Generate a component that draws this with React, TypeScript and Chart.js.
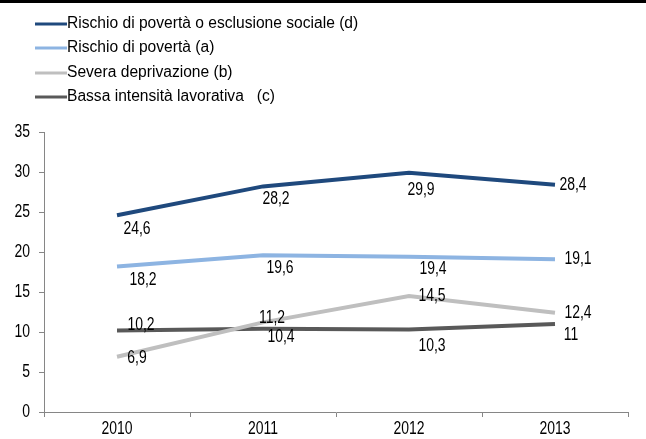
import React, { useEffect, useRef } from "react";
import { Chart, registerables } from "chart.js";

Chart.register(...registerables);

const categories = ["2010", "2011", "2012", "2013"];
const seriesNames = [
  "Rischio di povertà o esclusione sociale (d)",
  "Rischio di povertà (a)",
  "Severa deprivazione (b)",
  "Bassa intensità lavorativa   (c)",
];
const povertyOrExclusion = [24.6, 28.2, 29.9, 28.4];
const povertyRisk = [18.2, 19.6, 19.4, 19.1];
const severeDeprivation = [6.9, 11.2, 14.5, 12.4];
const lowWorkIntensity = [10.2, 10.4, 10.3, 11];
const yTicks = [0, 5, 10, 15, 20, 25, 30, 35];

const colors = ["#1F497D", "#8DB4E2", "#BFBFBF", "#595959"];

// label offsets (dx, dy) relative to each point
const labelOffsets = [
  [[20, 14], [13, 13], [12, 17], [18, 0]],
  [[26, 14], [17, 13], [24, 12], [23, 0]],
  [[20, 1], [9, -4], [23, 0], [23, 0]],
  [[24, -5], [18, 8], [23, 16], [16, 11]],
];

const FONT = "'Liberation Sans', Arial, sans-serif";
const NUM_SIZE = 18;
const NUM_SCALE = 0.775;
const LEGEND_SIZE = 15.6;

const fmt = (v: number) => String(v).replace(".", ",");

function narrowText(ctx: CanvasRenderingContext2D, text: string, x: number, y: number, align: CanvasTextAlign) {
  ctx.save();
  ctx.translate(x, y);
  ctx.scale(NUM_SCALE, 1);
  ctx.textAlign = align;
  ctx.textBaseline = "middle";
  ctx.fillText(text, 0, 0);
  ctx.restore();
}

const decorPlugin = {
  id: "decor",
  afterDatasetsDraw(chart: any) {
    const ctx = chart.ctx;
    ctx.save();
    ctx.font = `${NUM_SIZE}px ${FONT}`;
    ctx.fillStyle = "#000";
    chart.data.datasets.forEach((ds: any, i: number) => {
      const meta = chart.getDatasetMeta(i);
      meta.data.forEach((pt: any, j: number) => {
        const [dx, dy] = labelOffsets[i][j];
        narrowText(ctx, fmt(ds.data[j]), pt.x + dx, pt.y + dy, "center");
      });
    });
    const xs = chart.scales.x;
    const ys = chart.scales.y;
    categories.forEach((c, i) => {
      narrowText(ctx, c, xs.getPixelForValue(i), 429, "center");
    });
    yTicks.forEach((v) => {
      narrowText(ctx, String(v), 30, ys.getPixelForValue(v), "right");
    });
    ctx.restore();
  },
  afterDraw(chart: any) {
    const ctx = chart.ctx;
    ctx.save();
    ctx.fillStyle = "#000";
    ctx.fillRect(0, 0, chart.width, 3);
    ctx.font = `${LEGEND_SIZE}px ${FONT}`;
    ctx.textAlign = "left";
    ctx.textBaseline = "middle";
    const rows = [24, 48, 73, 97];
    chart.data.datasets.forEach((ds: any, i: number) => {
      const y = rows[i];
      ctx.strokeStyle = ds.borderColor;
      ctx.lineWidth = 3;
      ctx.beginPath();
      ctx.moveTo(35, y);
      ctx.lineTo(67, y);
      ctx.stroke();
      ctx.fillStyle = "#000";
      ctx.fillText(ds.label, 67, y);
    });
    ctx.restore();
  },
};

export default function App() {
  const ref = useRef<HTMLCanvasElement>(null);
  useEffect(() => {
    if (!ref.current) return;
    const seriesData = [povertyOrExclusion, povertyRisk, severeDeprivation, lowWorkIntensity];
    const chart = new Chart(ref.current, {
      type: "line",
      data: {
        labels: categories,
        datasets: seriesData.map((d, i) => ({
          label: seriesNames[i],
          data: d,
          borderColor: colors[i],
          backgroundColor: colors[i],
          borderWidth: 4,
          pointRadius: 0,
          tension: 0,
          fill: false,
        })),
      },
      options: {
        responsive: false,
        animation: false,
        layout: { padding: { top: 132, right: 18, left: 0, bottom: 0 } },
        plugins: { legend: { display: false }, tooltip: { enabled: false } },
        scales: {
          x: {
            offset: true,
            grid: {
              offset: true,
              drawOnChartArea: false,
              tickLength: 5,
              color: "#868686",
            },
            border: { color: "#868686", width: 1 },
            ticks: { display: false },
            afterFit(scale: any) {
              scale.height = 27;
            },
          },
          y: {
            min: 0,
            max: 35,
            afterBuildTicks(scale: any) {
              scale.ticks = yTicks.map((v) => ({ value: v }));
            },
            grid: {
              drawOnChartArea: false,
              tickLength: 5,
              color: "#868686",
            },
            border: { color: "#868686", width: 1 },
            ticks: { display: false },
            afterFit(scale: any) {
              scale.width = 44;
            },
          },
        },
      },
      plugins: [decorPlugin],
    });
    return () => chart.destroy();
  }, []);
  return (
    <div style={{ position: "fixed", left: 0, top: 0, width: 646, height: 439, background: "#fff" }}>
      <canvas ref={ref} width={646} height={439} style={{ display: "block" }} />
    </div>
  );
}
